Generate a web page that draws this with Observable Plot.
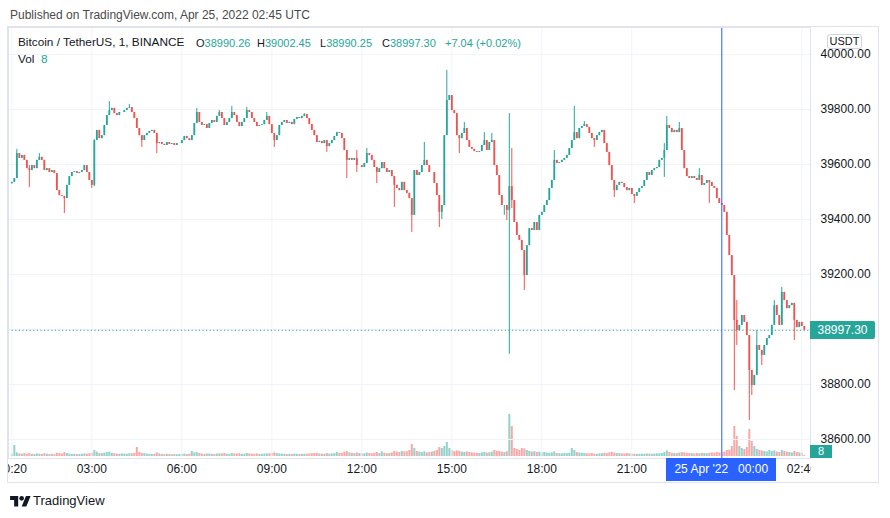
<!DOCTYPE html>
<html>
<head>
<meta charset="utf-8">
<script src="https://cdn.jsdelivr.net/npm/d3@7"></script>
<script src="https://cdn.jsdelivr.net/npm/@observablehq/plot@0.6"></script>
<style>
  html, body { margin: 0; padding: 0; background: #fff; }
  #page { position: relative; width: 890px; height: 518px; overflow: hidden; font-family: "Liberation Sans", Arial, sans-serif; color: #131722; }
  .abs { position: absolute; white-space: pre; line-height: 1; }
</style>
</head>
<body>
<div id="page"></div>
<script>
// ---------- data ----------
const startTime = "2022-04-24T00:20:00Z";   // first 5-minute candle
const stepMinutes = 5;
const firstOpen = 39530;
const closes = [
  39535, 39549, 39640, 39622, 39633, 39615, 39585, 39578, 39596, 39585,
  39615, 39626, 39615, 39578, 39585, 39571, 39578, 39567, 39505, 39487,
  39484, 39476, 39524, 39556, 39571, 39574, 39567, 39571, 39578, 39596,
  39571, 39542, 39524, 39687, 39724, 39694, 39705, 39742, 39778, 39796,
  39804, 39785, 39778, 39789, 39789, 39796, 39804, 39807, 39789, 39767,
  39731, 39705, 39687, 39705, 39713, 39720, 39724, 39713, 39676, 39680,
  39673, 39669, 39680, 39673, 39676, 39669, 39676, 39676, 39687, 39702,
  39694, 39687, 39705, 39749, 39789, 39753, 39742, 39745, 39731, 39749,
  39760, 39753, 39775, 39789, 39767, 39742, 39753, 39767, 39789, 39778,
  39753, 39738, 39753, 39767, 39796, 39789, 39767, 39753, 39738, 39742,
  39745, 39760, 39775, 39745, 39713, 39687, 39705, 39742, 39753, 39760,
  39749, 39753, 39745, 39764, 39771, 39767, 39775, 39782, 39767, 39745,
  39724, 39705, 39680, 39684, 39676, 39687, 39665, 39676, 39687, 39702,
  39716, 39713, 39694, 39651, 39615, 39622, 39615, 39622, 39596, 39596,
  39589, 39604, 39640, 39633, 39615, 39589, 39571, 39585, 39607, 39585,
  39571, 39578, 39556, 39524, 39513, 39505, 39535, 39505, 39495, 39476,
  39415, 39578, 39560, 39571, 39596, 39615, 39596, 39571, 39571, 39531,
  39487, 39426, 39451, 39705, 39833, 39851, 39796, 39785, 39705, 39694,
  39713, 39731, 39687, 39662, 39655, 39647, 39644, 39647, 39669, 39687,
  39651, 39680, 39687, 39596, 39560, 39487, 39451, 39451, 39433, 39520,
  39469, 39389, 39342, 39324, 39287, 39196, 39305, 39367, 39360, 39389,
  39360, 39415, 39426, 39451, 39469, 39513, 39542, 39615, 39604, 39607,
  39615, 39622, 39633, 39658, 39687, 39716, 39694, 39731, 39738, 39745,
  39735, 39713, 39694, 39687, 39705, 39716, 39724, 39676, 39644, 39596,
  39542, 39505, 39524, 39535, 39531, 39516, 39505, 39513, 39491, 39484,
  39498, 39513, 39520, 39542, 39571, 39560, 39578, 39585, 39589, 39615,
  39622, 39651, 39742, 39731, 39716, 39724, 39716, 39731, 39651, 39585,
  39556, 39549, 39556, 39549, 39542, 39560, 39524, 39531, 39542, 39535,
  39520, 39513, 39476, 39458, 39451, 39426, 39342, 39269, 39196, 39033,
  38996, 39015, 39051, 39026, 38978, 38851, 38796, 38833, 38942, 38924,
  38906, 38942, 38967, 38978, 39015, 39087, 39051, 39015, 39135, 39105,
  39076, 39087, 39095, 39033, 39007, 39026, 39011, 38997.30
];
// candles whose wicks reach beyond the body: [index, high, low]
const wicks = [
  [2, 39655, 39549], [7, 39596, 39516], [11, 39640, 39615], [21, 39484, 39422],
  [32, 39542, 39513], [33, 39690, 39520], [39, 39829, 39778], [47, 39818, 39804],
  [52, 39705, 39662], [58, 39713, 39640], [74, 39804, 39749], [83, 39796, 39775],
  [88, 39811, 39767], [94, 39807, 39767], [102, 39789, 39760], [105, 39713, 39662],
  [117, 39785, 39775], [126, 39687, 39644], [134, 39651, 39549], [138, 39651, 39571],
  [142, 39658, 39604], [146, 39589, 39531], [153, 39556, 39444], [160, 39476, 39353],
  [165, 39680, 39596], [171, 39487, 39371], [172, 39451, 39400], [174, 39942, 39705],
  [179, 39705, 39640], [181, 39753, 39713], [189, 39716, 39669], [192, 39713, 39680],
  [197, 39451, 39415], [198, 39451, 39396], [199, 39785, 38910], [200, 39658, 39440],
  [205, 39287, 39142], [217, 39651, 39542], [225, 39811, 39687], [229, 39756, 39738],
  [233, 39694, 39662], [241, 39542, 39480], [249, 39491, 39458], [261, 39676, 39553],
  [262, 39775, 39651], [267, 39753, 39716], [275, 39585, 39542], [279, 39542, 39458],
  [289, 39196, 38778], [290, 39105, 38942], [295, 38978, 38669], [296, 38851, 38760],
  [298, 38996, 38833], [300, 38924, 38869], [305, 39105, 39015], [308, 39153, 39015],
  [313, 39095, 38960]
];
const volumes = [
  120, 550, 180, 130, 110, 150, 120, 140, 110, 100,
  130, 110, 100, 140, 120, 100, 110, 90, 160, 140,
  130, 200, 150, 120, 100, 110, 90, 100, 110, 130,
  120, 140, 160, 300, 220, 150, 140, 170, 200, 220,
  160, 140, 120, 110, 130, 120, 110, 140, 130, 150,
  450, 200, 160, 140, 120, 110, 100, 110, 180, 130,
  100, 90, 110, 100, 90, 100, 90, 100, 110, 120,
  100, 110, 250, 180, 200, 150, 120, 110, 130, 120,
  110, 100, 120, 140, 130, 150, 120, 110, 150, 130,
  120, 140, 110, 120, 150, 130, 120, 110, 130, 100,
  110, 120, 130, 140, 160, 180, 150, 130, 120, 110,
  100, 110, 100, 120, 110, 100, 110, 120, 110, 130,
  140, 150, 160, 130, 120, 110, 150, 120, 130, 140,
  200, 150, 160, 220, 250, 180, 160, 140, 180, 150,
  140, 130, 170, 150, 140, 160, 200, 150, 230, 160,
  140, 150, 180, 260, 220, 200, 250, 230, 240, 300,
  600, 400, 250, 220, 200, 240, 180, 200, 220, 260,
  300, 450, 400, 500, 700, 400, 300, 250, 280, 260,
  220, 200, 230, 200, 180, 170, 160, 150, 180, 200,
  170, 190, 220, 300, 260, 250, 220, 200, 240, 2100,
  1500, 400, 350, 300, 400, 380, 300, 250, 220, 240,
  200, 220, 180, 200, 170, 160, 180, 230, 150, 140,
  130, 150, 140, 160, 400, 300, 200, 170, 160, 150,
  140, 130, 150, 120, 110, 130, 140, 160, 150, 180,
  200, 170, 150, 140, 130, 120, 150, 130, 120, 110,
  100, 110, 120, 110, 130, 120, 110, 120, 130, 140,
  150, 200, 280, 200, 160, 150, 140, 170, 200, 180,
  160, 150, 140, 130, 150, 140, 160, 150, 140, 160,
  170, 160, 200, 180, 190, 220, 300, 320, 500, 1500,
  1000, 500, 400, 350, 450, 1350, 750, 500, 350, 300,
  280, 250, 230, 300, 250, 280, 220, 200, 300, 250,
  220, 200, 180, 250, 200, 180, 160, 40
];
const priceTicks = [38600, 38800, 39000, 39200, 39400, 39600, 39800, 40000];
// 39000.00 sits under the last-price label, so the scale does not print it
const priceLabelTicks = [38600, 38800, 39200, 39400, 39600, 39800, 40000];
const timeTicks = ["2022-04-24T00:20Z", "2022-04-24T03:00Z", "2022-04-24T06:00Z", "2022-04-24T09:00Z",
  "2022-04-24T12:00Z", "2022-04-24T15:00Z", "2022-04-24T18:00Z", "2022-04-24T21:00Z",
  "2022-04-25T00:00Z", "2022-04-25T02:40Z"];
// 00:00 sits under the crosshair label, so the scale does not print it
const timeLabelTicks = ["2022-04-24T00:20Z", "2022-04-24T03:00Z", "2022-04-24T06:00Z", "2022-04-24T09:00Z",
  "2022-04-24T12:00Z", "2022-04-24T15:00Z", "2022-04-24T18:00Z", "2022-04-24T21:00Z",
  "2022-04-25T02:40Z"];
const viewStart = "2022-04-24T00:13:20Z";
const viewEnd = "2022-04-25T02:57:24Z";
const crosshairTime = "2022-04-25T00:00Z";
const crosshairLabel = ["25 Apr '22", "00:00"];
const lastPrice = 38997.30;
const lastVolume = "8";
const titleText = "Published on TradingView.com, Apr 25, 2022 02:45 UTC";
const symbolText = "Bitcoin / TetherUS, 1, BINANCE";
const ohlcLabels = ["O", "H", "L", "C"];
const ohlcValues = ["38990.26", "39002.45", "38990.25", "38997.30"];
const changeText = "+7.04 (+0.02%)";
const currencyText = "USDT";
const brandText = "TradingView";

// ---------- build ----------
const UP = "#26a69a", DOWN = "#ef5350";
const t0 = Date.parse(startTime);
const wickMap = new Map(wicks.map(d => [d[0], d]));
const candles = closes.map((c, i) => {
  const o = i === 0 ? firstOpen : closes[i - 1];
  const w = wickMap.get(i);
  return {
    t: new Date(t0 + i * stepMinutes * 60000),
    open: o, close: c,
    high: w ? Math.max(w[1], o, c) : Math.max(o, c),
    low: w ? Math.min(w[2], o, c) : Math.min(o, c),
    vol: volumes[i],
    color: c >= o ? UP : DOWN
  };
});
const tTicks = timeTicks.map(d => new Date(d));
const tLabelTicks = timeLabelTicks.map(d => new Date(d));
const xDomain = [new Date(viewStart), new Date(viewEnd)];
const W = 870, H = 455, MR = 68, MB = 24;
const fontFam = '"Liberation Sans", Arial, sans-serif';
const svgPos = { position: "absolute", left: "8px", top: "27px", background: "transparent", overflow: "hidden" };

const volPlot = Plot.plot({
  width: W, height: H, marginLeft: 0, marginRight: MR, marginTop: 0, marginBottom: MB,
  style: { ...svgPos },
  x: { type: "utc", domain: xDomain, range: [0, W - MR], axis: null },
  y: { domain: [0, d3.max(volumes)], range: [429, 387], axis: null },
  color: { type: "identity" },
  marks: [
    Plot.ruleX(candles, { x: "t", y1: 0, y2: "vol", stroke: "color", strokeOpacity: 0.5, strokeWidth: 2 })
  ]
});

const main = Plot.plot({
  width: W, height: H, marginLeft: 0, marginRight: MR, marginTop: 0, marginBottom: MB,
  style: { ...svgPos, fontFamily: fontFam, fontSize: "12px", color: "#131722" },
  x: { type: "utc", domain: xDomain, range: [0, W - MR], ticks: tLabelTicks, tickFormat: d3.utcFormat("%H:%M"),
       tickSize: 0, tickPadding: 6, label: null, axis: "bottom" },
  y: { domain: [38600, 40000], range: [412, 27], ticks: priceLabelTicks, tickFormat: d => d.toFixed(2),
       tickSize: 0, tickPadding: 10, label: null, axis: "right" },
  color: { type: "identity" },
  marks: [
    Plot.ruleY(priceTicks, { stroke: "#f0f3fa", strokeOpacity: 1 }),
    Plot.ruleX(tTicks, { stroke: "#f0f3fa", strokeOpacity: 1 }),
    Plot.ruleY([lastPrice], { stroke: UP, strokeDasharray: "1.2,2.4", strokeWidth: 1.2 }),
    Plot.ruleX(candles, { x: "t", y1: "low", y2: "high", stroke: "color", strokeWidth: 1, clip: true }),
    Plot.ruleX(candles, { x: "t", y1: "open", y2: "close", stroke: "color", strokeWidth: 1.8, clip: true }),
    Plot.ruleX([new Date(crosshairTime)], { stroke: "#2962ff", strokeWidth: 1 }),
    Plot.frame({ stroke: "#e0e3eb" })
  ]
});

const page = document.getElementById("page");
function addDiv(style, html) {
  const d = document.createElement("div");
  d.className = "abs";
  Object.assign(d.style, style);
  if (html !== undefined) d.innerHTML = html;
  page.appendChild(d);
  return d;
}
// outer frame
addDiv({ left: "7px", top: "26px", width: "872px", height: "457px", boxSizing: "border-box", border: "1px solid #e0e3eb" });
page.appendChild(volPlot);
page.appendChild(main);

const xs = main.scale("x"), ys = main.scale("y");
// cover time labels that run into the price scale column
addDiv({ left: "811px", top: "459px", width: "67px", height: "23px", background: "#fff" });

// title
addDiv({ left: "10px", top: "9px", fontSize: "12px", color: "#4a4a4a" }, titleText);

// legend
const teal = s => `<span style="color:${UP}">${s}</span>`;
addDiv({ left: "18px", top: "37px", fontSize: "11.8px" }, symbolText);
const itemX = [196, 257, 320, 382];
const itemFont = "11px";
ohlcLabels.forEach((l, i) => addDiv({ left: itemX[i] + "px", top: "37.5px", fontSize: itemFont }, l + teal(ohlcValues[i])));
addDiv({ left: "445px", top: "37.5px", fontSize: itemFont }, teal(changeText));
addDiv({ left: "18px", top: "54px", fontSize: "11.8px" }, "Vol  " + teal(lastVolume));

// currency button
addDiv({ left: "827px", top: "34px", width: "35px", height: "15px", boxSizing: "border-box", border: "1px solid #d1d4dc",
  borderRadius: "3px", background: "#fff", fontSize: "11px", textAlign: "center", lineHeight: "13px" }, currencyText);

// last price label
const yLast = 27 + ys.apply(lastPrice);
addDiv({ left: "810px", top: (yLast - 9) + "px", width: "65px", height: "18px", background: UP, color: "#fff",
  fontSize: "12px", textAlign: "center", lineHeight: "18px", borderRadius: "0 2px 2px 0" }, lastPrice.toFixed(2));

// last volume label
addDiv({ left: "810px", top: "445px", width: "22px", height: "13px", background: UP, color: "#fff",
  fontSize: "11px", textAlign: "center", lineHeight: "13px" }, lastVolume);

// crosshair time label
const xc = 8 + xs.apply(new Date(crosshairTime));
addDiv({ left: (xc - 55) + "px", top: "458px", width: "110px", height: "23px", background: "#2962ff", color: "#fff",
  fontSize: "12px", textAlign: "center", lineHeight: "23px" }, crosshairLabel[0] + "   " + crosshairLabel[1]);

// footer brand
addDiv({ left: "10px", top: "496px" }, `<svg width="21" height="11" viewBox="0 4 36 19" style="display:block">
  <path d="M14 22H7V11H0V4h14v18z" fill="#131722"/>
  <circle cx="20" cy="8" r="4" fill="#131722"/>
  <path d="M28 22h-8l7.5-18h8L28 22z" fill="#131722"/>
</svg>`);
addDiv({ left: "33px", top: "494px", fontSize: "13px", color: "#131722" }, brandText);
</script>
</body>
</html>
